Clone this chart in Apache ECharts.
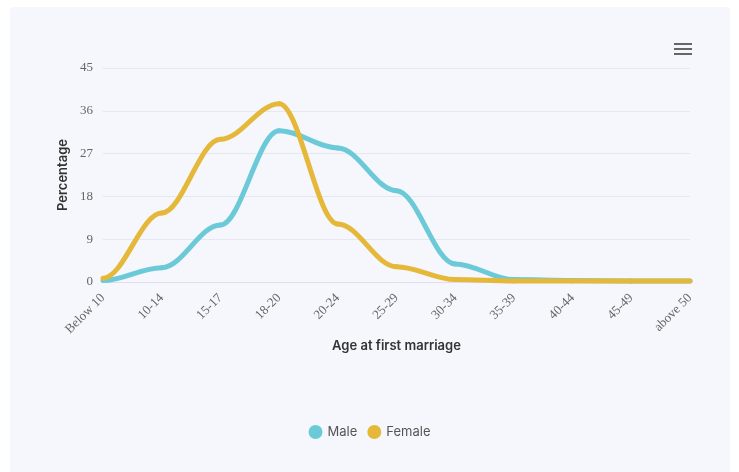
<!DOCTYPE html>
<html>
<head>
<meta charset="utf-8">
<script src="https://cdn.jsdelivr.net/npm/echarts@6/dist/echarts.min.js"></script>
<style>
  html, body { margin: 0; padding: 0; background: #ffffff; }
  #chart { width: 739px; height: 472px; }
</style>
</head>
<body>
<div id="chart"></div>
<script>
const categories = ['Below 10', '10-14', '15-17', '18-20', '20-24', '25-29', '30-34', '35-39', '40-44', '45-49', 'above 50'];
const maleValues = [0.3, 3, 12, 31.8, 28.2, 19.2, 3.8, 0.5, 0.3, 0.2, 0.2];
const femaleValues = [0.8, 14.5, 30, 37.5, 12.2, 3.2, 0.5, 0.2, 0.2, 0.2, 0.2];
const yTicks = { min: 0, max: 45, interval: 9 };

const MALE_COLOR = '#6ccad8';
const FEMALE_COLOR = '#e6b83a';

// Spline segment with horizontal tangents at each data point
function splineSeries(name, values, color) {
  return {
    name: name,
    type: 'custom',
    color: color,
    itemStyle: { color: color },
    data: values.map((v, i) => [i, v]),
    encode: { x: 0, y: 1 },
    renderItem: function (params, api) {
      const i = params.dataIndex;
      if (i >= values.length - 1) return null;
      const p0 = api.coord([i, values[i]]);
      const p1 = api.coord([i + 1, values[i + 1]]);
      const len = (p1[0] - p0[0]) * 0.35;
      return {
        type: 'bezierCurve',
        shape: {
          x1: p0[0], y1: p0[1],
          cpx1: p0[0] + len, cpy1: p0[1],
          cpx2: p1[0] - len, cpy2: p1[1],
          x2: p1[0], y2: p1[1]
        },
        style: { stroke: color, lineWidth: 5, fill: null, lineCap: 'round' }
      };
    }
  };
}

const chart = echarts.init(document.getElementById('chart'));
chart.setOption({
  backgroundColor: 'transparent',
  animation: false,
  graphic: [
    { type: 'rect', z: -10, shape: { x: 10, y: 7, width: 720, height: 470, r: 4 }, style: { fill: '#f5f7fc' } },
    { type: 'rect', shape: { x: 674, y: 43, width: 18, height: 2 }, style: { fill: '#666' } },
    { type: 'rect', shape: { x: 674, y: 48, width: 18, height: 2 }, style: { fill: '#666' } },
    { type: 'rect', shape: { x: 674, y: 53, width: 18, height: 2 }, style: { fill: '#666' } }
  ],
  grid: { left: 103, right: 49, top: 68, bottom: 190 },
  legend: {
    bottom: 28,
    left: 'center',
    icon: 'circle',
    itemWidth: 14,
    itemHeight: 14,
    itemGap: 10,
    textStyle: { fontFamily: 'Inter, Roboto, sans-serif', fontSize: 13, color: '#555' },
    data: ['Male', 'Female']
  },
  xAxis: {
    type: 'category',
    data: categories,
    boundaryGap: false,
    name: 'Age at first marriage',
    nameLocation: 'middle',
    nameGap: 58,
    nameTextStyle: { fontFamily: 'Inter, "Noto Sans", sans-serif', fontSize: 13, fontWeight: 600, color: '#333' },
    axisLine: { lineStyle: { color: '#e2dcef' } },
    axisTick: { show: false },
    axisLabel: { rotate: 45, fontFamily: '"Liberation Serif", serif', fontSize: 13, color: '#666', margin: 14 }
  },
  yAxis: {
    type: 'value',
    min: yTicks.min,
    max: yTicks.max,
    interval: yTicks.interval,
    name: 'Percentage',
    nameLocation: 'middle',
    nameGap: 33,
    nameTextStyle: { fontFamily: 'Inter, "Noto Sans", sans-serif', fontSize: 13, fontWeight: 600, color: '#333' },
    axisLine: { show: false },
    axisTick: { show: false },
    axisLabel: { fontFamily: '"Liberation Serif", serif', fontSize: 13, color: '#666', margin: 10 },
    splitLine: { lineStyle: { color: '#e6e8ef' } }
  },
  series: [
    splineSeries('Male', maleValues, MALE_COLOR),
    splineSeries('Female', femaleValues, FEMALE_COLOR)
  ]
});
</script>
</body>
</html>
